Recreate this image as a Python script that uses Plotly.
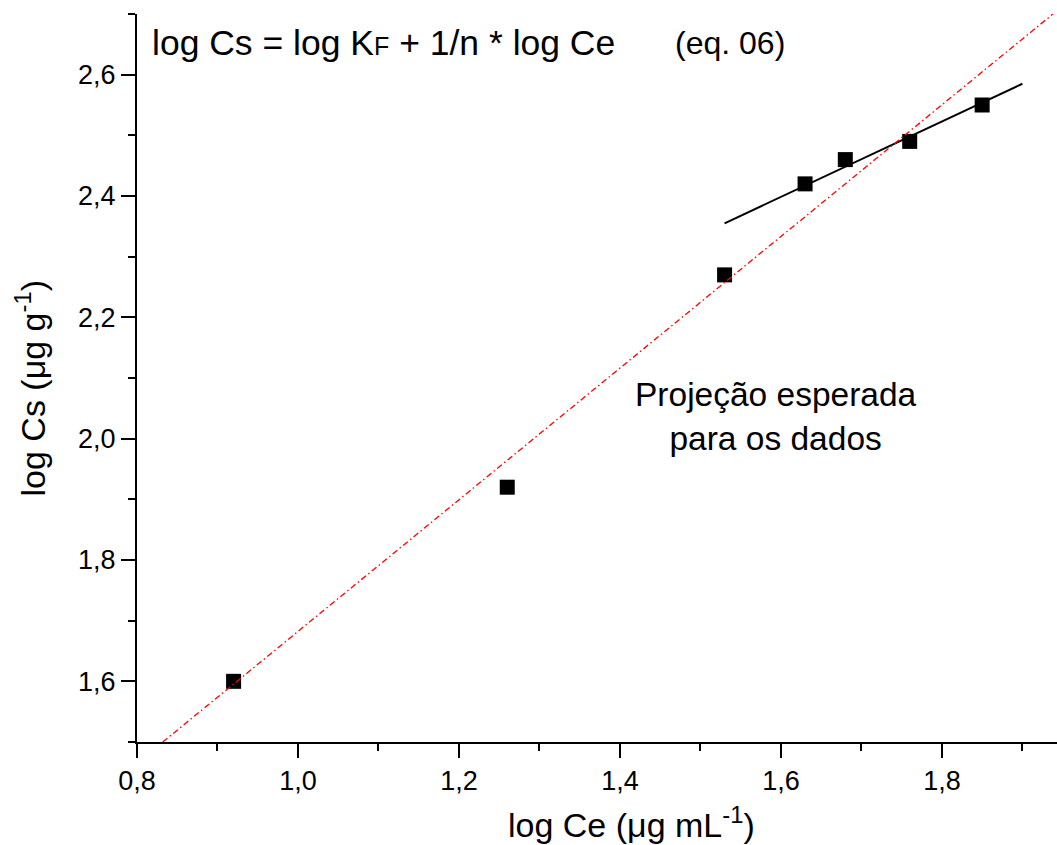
import plotly.graph_objects as go

# Freundlich isotherm, linearised form
log_ce = [0.92, 1.26, 1.53, 1.63, 1.68, 1.76, 1.85]
log_cs = [1.60, 1.92, 2.27, 2.42, 2.46, 2.49, 2.55]

# fitted line through the high-concentration points
fit_x = [1.53, 1.90]
fit_y = [2.355, 2.585]

# expected projection of the data
proj_x = [0.832, 1.938]
proj_y = [1.50, 2.70]

x_ticks = [0.8, 1.0, 1.2, 1.4, 1.6, 1.8]
x_tick_text = ["0,8", "1,0", "1,2", "1,4", "1,6", "1,8"]
y_ticks = [1.6, 1.8, 2.0, 2.2, 2.4, 2.6]
y_tick_text = ["1,6", "1,8", "2,0", "2,2", "2,4", "2,6"]

FONT = "Liberation Sans, Arial, sans-serif"

fig = go.Figure()

fig.add_trace(go.Scatter(
    x=log_ce, y=log_cs, mode="markers",
    marker=dict(symbol="square", size=15, color="black", line=dict(width=0)),
    showlegend=False, cliponaxis=False,
))
fig.add_trace(go.Scatter(
    x=fit_x, y=fit_y, mode="lines",
    line=dict(color="black", width=2),
    showlegend=False,
))
fig.add_trace(go.Scatter(
    x=proj_x, y=proj_y, mode="lines",
    line=dict(color="red", width=1.3, dash="6px,3px,1.5px,3px"),
    showlegend=False,
))

axis_common = dict(
    showline=True, linecolor="black", linewidth=2,
    ticks="outside", ticklen=14, tickwidth=2, tickcolor="black",
    showgrid=False, zeroline=False, mirror=False,
    tickfont=dict(family=FONT, size=27, color="black"),
    minor=dict(ticks="outside", ticklen=7, tickwidth=2, tickcolor="black", dtick=0.1, showgrid=False),
)

fig.update_xaxes(range=[0.8, 1.943], tickvals=x_ticks, ticktext=x_tick_text, **axis_common)
fig.update_yaxes(range=[1.5, 2.7], tickvals=y_ticks, ticktext=y_tick_text, **axis_common)

annots = [
    dict(x=0.816, y=2.652, xref="x", yref="y", xanchor="left", yanchor="middle",
         text="log Cs = log K<span style='font-size:25px'>F</span> + 1/n * log Ce",
         font=dict(family=FONT, size=35.5, color="black"), showarrow=False),
    dict(x=1.466, y=2.652, xref="x", yref="y", xanchor="left", yanchor="middle",
         text="(eq. 06)", font=dict(family=FONT, size=32, color="black"), showarrow=False),
    dict(x=1.594, y=2.036, xref="x", yref="y", xanchor="center", yanchor="middle",
         text="Projeção esperada<br>para os dados", align="center",
         font=dict(family=FONT, size=33.5, color="black"), showarrow=False),
    dict(x=0.537, y=-0.111, xref="paper", yref="paper", xanchor="center", yanchor="middle",
         text="log Ce (μg mL<sup>-1</sup>)",
         font=dict(family=FONT, size=34, color="black"), showarrow=False),
    dict(x=-0.116, y=0.486, xref="paper", yref="paper", xanchor="center", yanchor="middle",
         text="log Cs (μg g<sup>-1</sup>)", textangle=-90,
         font=dict(family=FONT, size=34, color="black"), showarrow=False),
]

fig.update_layout(
    width=1057, height=845,
    margin=dict(l=137, r=0, t=14, b=103),
    paper_bgcolor="white", plot_bgcolor="white",
    annotations=annots,
    font=dict(family=FONT, color="black"),
)

fig.write_html("out.html")
